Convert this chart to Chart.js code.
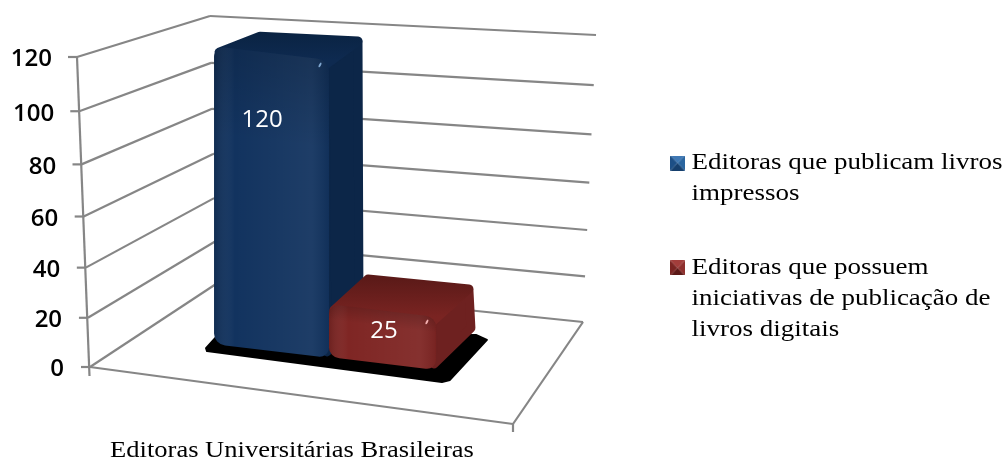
<!DOCTYPE html>
<html><head><meta charset="utf-8">
<style>html,body{margin:0;padding:0;background:#fff}canvas{display:block;filter:blur(.45px)}</style>
<script src="https://cdn.jsdelivr.net/npm/chart.js@4"></script>
</head><body><canvas id="c" width="1002" height="459"></canvas>
<script>
const categories = ['Editoras Universitárias Brasileiras'];
const seriesNames = [
  ['Editoras que publicam livros', 'impressos'],
  ['Editoras que possuem', 'iniciativas de publicação de', 'livros digitais']
];
const valuesPrinted = [120];
const valuesDigital = [25];

const SERIF = '"Liberation Serif", serif';
const SANS = '"Open Sans", sans-serif';
const WALL = '#868686';
const STRETCH_LEGEND = 1.124;
const STRETCH_AXIS = 1.105;
const PERSPECTIVE_Q = 1.06;

// per-bar 3D look: front-face placement and depth vectors (pixels)
const BAR3D = [
  {dy:-16, k:.961, s:.12, sx:1, topL:[46,-15], topR:[34,-24], botR:[35,-38],
   front:'#12335f', side:'#0c2648', topBack:'#0a2342', topFront:'#0e2a50', hi:'#7fa6cf', label:[-9.5,63]},
  {dy:-3, k:.86, s:.12, sx:.93, topL:[39,-30], topR:[38,-33], botR:[40,-37],
   front:'#7f2624', side:'#6e2120', topBack:'#581917', topFront:'#7a2422', hi:'#f3b0b0', label:[-2.5,26]}
];

class PerspectiveScale extends Chart.LinearScale {
  fraction(v){ const t=(v-this.min)/(this.max-this.min); return t/(t+PERSPECTIVE_Q*(1-t)); }
  getPixelForValue(v){ return this.bottom-this.fraction(v)*(this.bottom-this.top); }
  _computeLabelItems(area){
    const items=super._computeLabelItems(area);
    items.forEach(it=>{
      const f=(this.bottom-it.options.translation[1])/(this.bottom-this.top);
      it.options.translation[0]-=12*f;
      it.options.translation[1]+=2.5;
    });
    return items;
  }
}
PerspectiveScale.id='perspective';
PerspectiveScale.defaults=Chart.LinearScale.defaults;
Chart.register(PerspectiveScale);

function swatch(dark,light,mid,edge){
  const c=document.createElement('canvas');c.width=13;c.height=15;
  const g=c.getContext('2d');
  const tri=(col,p)=>{g.fillStyle=col;g.beginPath();p.forEach((q,i)=>i?g.lineTo(q[0],q[1]):g.moveTo(q[0],q[1]));g.closePath();g.fill();};
  tri(light,[[0,0],[13,0],[6.5,7.5]]);
  tri(edge,[[0,15],[13,15],[6.5,7.5]]);
  tri(dark,[[0,0],[0,15],[6.5,7.5]]);
  tri(mid,[[13,0],[13,15],[6.5,7.5]]);
  return c;
}
const swatches=[swatch('#1d4f86','#3f78b4','#2a659f','#163f6d'),swatch('#7a2422','#a23d3b','#8e2f2d','#5c1917')];

const LEGEND_ANCHOR=677, LEGEND_PAD=43, LEGEND_TOP=108;
const scene={
  id:'scene',
  afterLayout(chart){
    const lg=chart.legend;
    lg.left=LEGEND_ANCHOR-LEGEND_PAD; lg.right=lg.left+400; lg.top=LEGEND_TOP; lg.bottom=lg.top+lg.height;
    const legendDraw=Object.getPrototypeOf(lg).draw;
    lg.draw=function(){
      const ctx=this.ctx;ctx.save();
      ctx.translate(LEGEND_ANCHOR,0);ctx.scale(STRETCH_LEGEND,1);ctx.translate(-LEGEND_ANCHOR,0);
      legendDraw.call(this);ctx.restore();
    };
    const xs=chart.scales.x;
    const labelsDraw=Object.getPrototypeOf(Object.getPrototypeOf(xs)).drawLabels;
    xs.drawLabels=function(a){
      const ctx=this.ctx,cx=292;ctx.save();
      ctx.translate(cx,0);ctx.scale(STRETCH_AXIS,1);ctx.translate(-cx,0);
      labelsDraw.call(this,a);ctx.restore();
    };
  },
  beforeDatasetDraw(){ return false; },
  beforeDatasetsDraw(chart){
    const ctx=chart.ctx;
    drawWalls(chart,ctx);
    const a=chart.getDatasetMeta(0).data[0], b=chart.getDatasetMeta(1).data[0];
    drawShadow(ctx,a,b);
    [0,1].forEach(i=>drawBar(chart,ctx,i));
    [0,1].forEach(i=>{
      const el=chart.getDatasetMeta(i).data[0],g=BAR3D[i];
      ctx.save();ctx.fillStyle='#fff';ctx.font='24px '+SANS;ctx.textAlign='center';ctx.textBaseline='middle';
      ctx.fillText(String(chart.data.datasets[i].data[0]),el.x+g.label[0],el.y+g.label[1]);
      ctx.restore();
    });
  }
};

function seg(ctx,x0,y0,x1,y1){ctx.beginPath();ctx.moveTo(x0,y0);ctx.lineTo(x1,y1);ctx.stroke();}
function drawWalls(chart,ctx){
  const y=chart.scales.y,area=chart.chartArea,L=area.left,B=area.bottom;
  ctx.save();ctx.strokeStyle=WALL;ctx.lineWidth=2.2;
  y.ticks.forEach(t=>{
    const py=y.getPixelForValue(t.value),f=y.fraction(t.value);
    const fx=L-13*f;
    seg(ctx,fx-9,py,fx,py);
    const bx=L+126-6*f,by=B-83-268*f;
    seg(ctx,fx,py,bx,by);
    seg(ctx,bx,by,L+493+13*f,B-45-287*f);
  });
  seg(ctx,L-13,area.top,L-0.5,B+9);
  const fr=[L+423,B+57],br=[L+493,B-45];
  seg(ctx,L,B,fr[0],fr[1]);
  seg(ctx,fr[0],fr[1],br[0],br[1]);
  seg(ctx,fr[0],fr[1],fr[0],fr[1]+8);
  ctx.restore();
}
function mapper(el,g){
  const b=el.base+g.dy, x0=el.x-el.width/2;
  return (x,y)=>[x0+g.sx*(x-x0), b+g.k*(y-el.base)+g.s*(x0+g.sx*(x-x0)-el.x)];
}
function drawShadow(ctx,a,b){
  const A=mapper(a,BAR3D[0])(a.x-a.width/2,a.base);
  const B=mapper(b,BAR3D[1])(b.x+b.width/2,b.base);
  const pts=[[A[0]-8,A[1]+4],[A[0]+2,A[1]-7],[B[0]+40,B[1]-35],[B[0]+51,B[1]-30],[B[0]+14,B[1]+10],[B[0]+6,B[1]+12],[A[0]-7,A[1]+7]];
  ctx.save();ctx.fillStyle='#000';ctx.strokeStyle='#000';ctx.lineWidth=2;ctx.lineJoin='round';
  poly(ctx,pts);ctx.fill();ctx.stroke();ctx.restore();
}
function poly(ctx,p){ctx.beginPath();p.forEach((q,i)=>i?ctx.lineTo(q[0],q[1]):ctx.moveTo(q[0],q[1]));ctx.closePath();}
function add(p,v){return [p[0]+v[0],p[1]+v[1]];}
function drawBar(chart,ctx,i){
  const meta=chart.getDatasetMeta(i),el=meta.data[0],g=BAR3D[i],T=mapper(el,g);
  const l=el.x-el.width/2,r=el.x+el.width/2;
  const FL=T(l,el.y),FR=T(r,el.y),FB=T(r,el.base);
  ctx.save();ctx.lineJoin='round';ctx.lineWidth=9;
  // side face
  const sidePts=[add(FR,[-4,6]),add(FR,[g.topR[0]-5,g.topR[1]+6]),add(FB,[g.botR[0]-5,g.botR[1]-5]),add(FB,[-2,-6])];
  ctx.fillStyle=ctx.strokeStyle=g.side;poly(ctx,sidePts);ctx.fill();ctx.stroke();
  // top face
  const topPts=[add(FL,[5,6]),add(FL,[g.topL[0],g.topL[1]+5]),add(FR,[g.topR[0]-5,g.topR[1]+5]),add(FR,[-5,6])];
  const tg=ctx.createLinearGradient(0,FL[1]+g.topL[1],0,FR[1]);
  tg.addColorStop(0,g.topBack);tg.addColorStop(1,g.topFront);
  ctx.fillStyle=ctx.strokeStyle=tg;poly(ctx,topPts);ctx.fill();ctx.stroke();
  ctx.restore();
  // front face: the library's own bar element, sheared onto the 3D front plane
  const x0=l,b=el.base+g.dy;
  ctx.save();
  ctx.transform(g.sx,g.s*g.sx,0,g.k,x0-g.sx*x0,b-g.k*el.base+g.s*(x0-el.x)-g.s*g.sx*x0);
  meta.controller.draw();
  ctx.beginPath();ctx.roundRect(l,el.y,el.width,el.base-el.y,11);
  const og=ctx.createLinearGradient(l,0,r,0);
  og.addColorStop(0,'rgba(0,0,0,.14)');og.addColorStop(.18,'rgba(255,255,255,0)');
  og.addColorStop(.85,'rgba(255,255,255,.05)');og.addColorStop(1,'rgba(0,0,0,.06)');
  ctx.fillStyle=og;ctx.fill();
  const vg=ctx.createLinearGradient(0,el.y,0,el.y+(el.base-el.y)*.3);
  vg.addColorStop(0,'rgba(0,0,0,.16)');vg.addColorStop(1,'rgba(0,0,0,0)');
  ctx.fillStyle=vg;ctx.fill();
  ctx.restore();
  // specular spot
  ctx.save();ctx.fillStyle=g.hi;ctx.translate(FR[0]-9,FR[1]+5);ctx.rotate(.5);
  ctx.beginPath();ctx.ellipse(0,0,1,2.6,0,0,Math.PI*2);ctx.fill();ctx.restore();
}

new Chart(document.getElementById('c'),{
  type:'bar',
  data:{labels:categories,datasets:[
    {label:seriesNames[0].join(' '),data:valuesPrinted,backgroundColor:BAR3D[0].front,borderRadius:11,borderSkipped:false,borderWidth:0},
    {label:seriesNames[1].join(' '),data:valuesDigital,backgroundColor:BAR3D[1].front,borderRadius:11,borderSkipped:false,borderWidth:0}
  ]},
  options:{
    responsive:false,animation:false,
    layout:{padding:{left:0,top:57,right:334,bottom:0}},
    categoryPercentage:.481,barPercentage:1,
    plugins:{
      tooltip:{enabled:false},
      legend:{
        position:'right',align:'start',maxWidth:100,
        labels:{
          color:'#000',usePointStyle:true,pointStyleWidth:1,padding:LEGEND_PAD,
          font:{family:SERIF,size:24,lineHeight:1.29},
          generateLabels:()=>seriesNames.map((t,i)=>({text:t,datasetIndex:i,pointStyle:swatches[i],fontColor:'#000',hidden:false,lineWidth:0}))
        }
      }
    },
    scales:{
      x:{grid:{display:false},border:{display:false},afterFit(s){s.height=92;},
         ticks:{color:'#000',font:{family:SERIF,size:24},padding:61,labelOffset:-37,maxRotation:0,autoSkip:false}},
      y:{type:'perspective',min:0,max:120,grid:{display:false,drawTicks:false},border:{display:false},afterFit(s){s.width=90;},
         ticks:{stepSize:20,color:'#000',font:{family:SANS,size:24,weight:'600'},padding:26}}
    }
  },
  plugins:[scene]
});
</script></body></html>
